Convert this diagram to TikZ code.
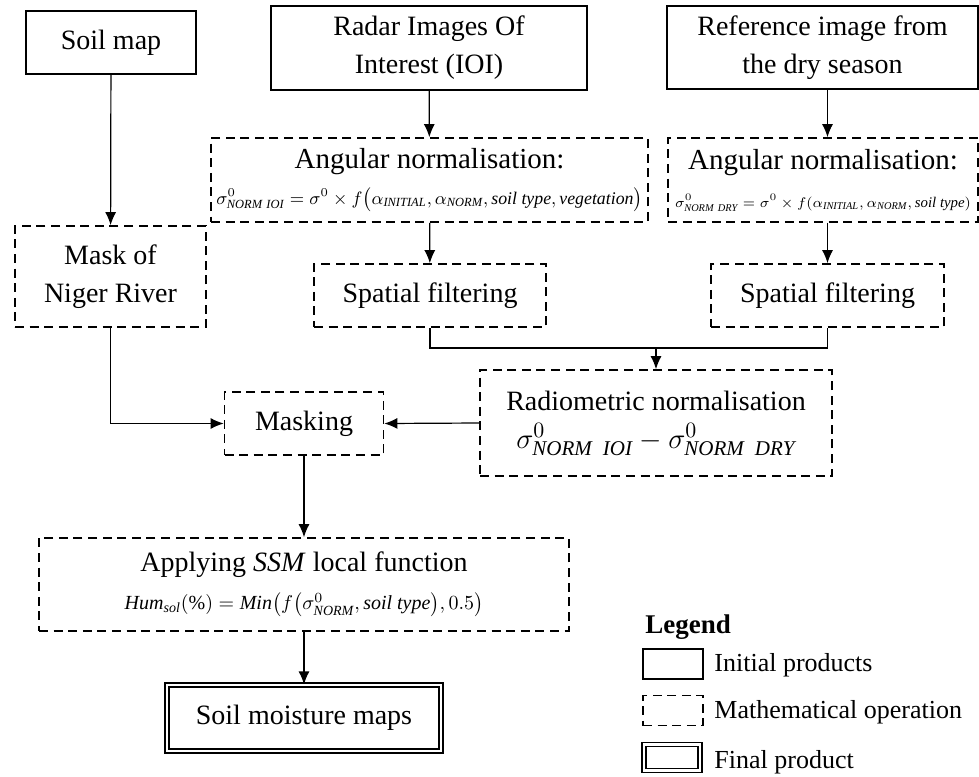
\documentclass[tikz,border=0pt]{standalone}
\usepackage{fontspec}
\setmainfont{Liberation Serif}
\usetikzlibrary{arrows.meta}
\newcommand{\mainsize}{\fontsize{14}{19}\selectfont}
\newcommand{\titlesize}{\fontsize{14.5}{17}\selectfont}
\newcommand{\legendsize}{\fontsize{13}{15}\selectfont}
\tikzset{
    % box styles
    initial/.style = {draw, line width=0.7pt, align=center, inner sep=2pt, font=\mainsize},
    operation/.style = {initial, line width=0.85pt, dash pattern=on 4.5pt off 2.8pt},
    final/.style = {draw, double, double distance=1.4pt, line width=0.6pt, align=center, font=\mainsize},
    % connector style
    link/.style = {line width=0.6pt, -{Latex[length=6.5pt, width=5.5pt]}},
    % legend key box
    key/.style = {minimum width=30pt, minimum height=15pt},
    keytext/.style = {anchor=west, inner sep=0pt, font=\legendsize}
}

\begin{document}
\begin{tikzpicture}[x=0.5pt, y=-0.5pt]
        \useasboundingbox (0,0) rectangle (979,776);
        % input products
        \node[initial, minimum width=85pt, minimum height=31.5pt] (soil) at (111,42.5) {Soil map};
        \node[initial, minimum width=158pt, minimum height=42pt] (radar) at (429,48) {Radar Images Of\\Interest (IOI)};
        \node[initial, minimum width=155.5pt, minimum height=41.5pt] (ref) at (822.5,47.5) {Reference image from\\the dry season};
        % angular normalisation
        \node[operation, minimum width=218.5pt, minimum height=42pt] (angioi) at (429.5,180)
            {{\titlesize Angular normalisation:}\\[-1pt]{\fontsize{8.9}{10}\selectfont $\sigma^{0}_{\mathit{NORM\;IOI}}=\sigma^{0}\times f\bigl(\alpha_{\mathit{INITIAL}},\alpha_{\mathit{NORM}},\mathit{soil\ type, vegetation}\bigr)$}};
        \node[operation, minimum width=155pt, minimum height=42pt] (angdry) at (823,180)
            {{\titlesize Angular normalisation:}\\{\fontsize{7.4}{9}\selectfont $\sigma^{0}_{\mathit{NORM\;DRY}}=\sigma^{0}\times f(\alpha_{\mathit{INITIAL}},\alpha_{\mathit{NORM}},\mathit{soil\ type})$}};
        % mask and filtering
        \node[operation, minimum width=95.5pt, minimum height=50.5pt] (mask) at (110.5,276.5) {Mask of\\Niger River};
        \node[operation, minimum width=116pt, minimum height=31.5pt] (sf1) at (430,295.5) {Spatial filtering};
        \node[operation, minimum width=116.5pt, minimum height=31.5pt] (sf2) at (827.5,295.5) {Spatial filtering};
        % radiometric normalisation and masking
        \node[operation, minimum width=176pt, minimum height=53pt] (radio) at (656,423)
            {Radiometric normalisation\\{\fontsize{15}{18}\selectfont $\sigma^{0}_{\mathit{NORM\ \,IOI}}-\sigma^{0}_{\mathit{NORM\ \,DRY}}$}};
        \node[operation, minimum width=79.5pt, minimum height=31.5pt] (masking) at (304,423.5) {Masking};
        % soil moisture function and result
        \node[operation, minimum width=265pt, minimum height=46.5pt] (apply) at (304,584.5)
            {Applying \textit{SSM} local function\\{\fontsize{10}{12}\selectfont $\mathit{Hum}_{\mathit{sol}}(\%)=\mathit{Min}\bigl(f\bigl(\sigma^{0}_{\mathit{NORM}}, \mathit{soil\ type}\bigr),0.5\bigr)$}};
        \node[final, minimum width=137pt, minimum height=33pt] (result) at (304,718) {Soil moisture maps};
        % connectors
        \coordinate (join) at (656,348);
        \draw[link] (soil) -- (mask);
        \draw[link] (radar) -- (angioi);
        \draw[link] (ref.south -| sf2.north) -- (angdry.north -| sf2.north);
        \draw[link] (angioi) -- (sf1);
        \draw[link] (angdry.south -| sf2.north) -- (sf2.north);
        \draw[line width=0.6pt] (sf1.south) |- (join) -| (sf2.south);
        \draw[link] (join) -- (radio.north);
        \draw[link] (mask.south) |- (masking.west);
        \draw[link] (radio.west) -- (masking.east);
        \draw[link] (masking) -- (apply);
        \draw[link] (apply) -- (result);
        % legend
        \node[keytext, font=\fontsize{13.5}{15}\selectfont\bfseries] (legend) at (645,627) {Legend};
        \node[initial, key] (keyinit) at (673,664) {};
        \node[operation, key] (keyop) at (673,710.5) {};
        \node[final, key, minimum width=28pt, minimum height=13pt] (keyfinal) at (672,757.5) {};
        \node[keytext] (txtinit) at (714,665) {Initial products};
        \node[keytext] (txtop) at (714,712) {Mathematical operation};
        \node[keytext] (txtfinal) at (714,762) {Final product};
\end{tikzpicture}
\end{document}
